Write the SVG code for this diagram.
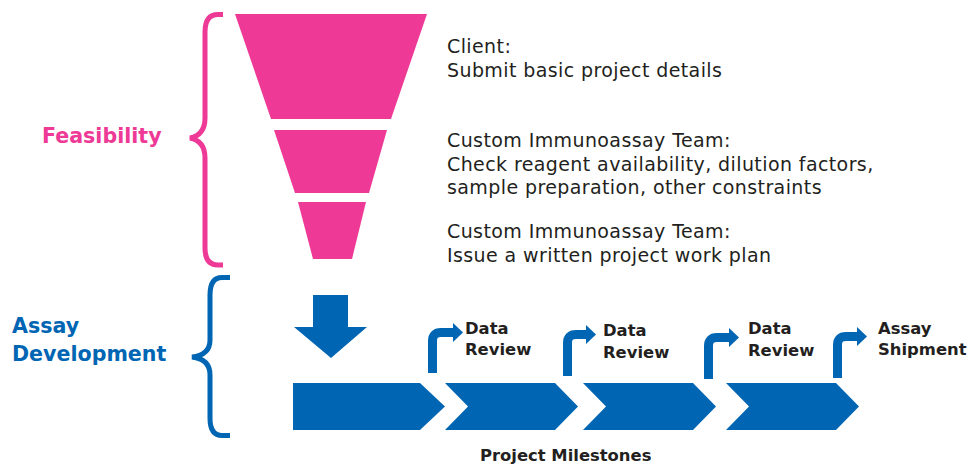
<svg xmlns="http://www.w3.org/2000/svg" width="971" height="465" viewBox="0 0 971 465">
<style>
.pink{fill:#EE3A96}
.blue{fill:#0066B3}
.brp{fill:none;stroke:#EE3A96;stroke-width:5}
.brb{fill:none;stroke:#0066B3;stroke-width:5}
.sh{fill:none;stroke:#0066B3;stroke-width:9}
.body{font-family:"DejaVu Sans","Liberation Sans",sans-serif;font-size:19px;letter-spacing:0.4px;fill:#231F20}
.lbl{font-family:"DejaVu Sans","Liberation Sans",sans-serif;font-size:16.4px;font-weight:bold;fill:#231F20}
.head{font-family:"DejaVu Sans","Liberation Sans",sans-serif;font-size:20.6px;font-weight:bold}
</style>
<rect width="971" height="465" fill="#fff"/>
<g id="feasibility">
<path class="brp" d="M223,14.5 H218 Q205,14.5 205,32 V118 Q205,135 190,138 Q205,141 205,158 V248 Q205,265 218,265 H223"/>
<text class="head" x="42" y="143" fill="#EE3A96">Feasibility</text>
</g>
<g id="funnel">
<polygon class="pink" points="235,14 427,14 391,119 271,119"/>
<polygon class="pink" points="274,130 387,130 369,193 295,193"/>
<polygon class="pink" points="298,202 366,202 352,259 313,259"/>
</g>
<g id="steps">
<text class="body" x="447" y="53">Client:</text>
<text class="body" x="447" y="77">Submit basic project details</text>
<text class="body" x="447" y="147">Custom Immunoassay Team:</text>
<text class="body" x="447" y="171">Check reagent availability, dilution factors,</text>
<text class="body" x="447" y="194">sample preparation, other constraints</text>
<text class="body" x="447" y="238">Custom Immunoassay Team:</text>
<text class="body" x="447" y="262">Issue a written project work plan</text>
</g>
<g id="assay-development">
<path class="brb" d="M230,277.5 H222 Q210,277.5 210,295 V340 Q210,355 192,357 Q210,359 210,375 V418 Q210,435.5 222,435.5 H230"/>
<text class="head" x="12" y="333" fill="#0066B3">Assay</text>
<text class="head" x="12" y="361" fill="#0066B3">Development</text>
</g>
<g id="down-arrow">
<polygon class="blue" points="313,295 348,295 348,327 367,327 331,358 294,327 313,327"/>
</g>
<g id="milestones">
<polygon class="blue" points="293,383 420,383 445,406.5 420,430 293,430"/>
<polygon class="blue" points="445,383 555,383 578,406.5 555,430 445,430 468,406.5"/>
<polygon class="blue" points="583,383 693,383 716,406.5 693,430 583,430 606,406.5"/>
<polygon class="blue" points="726,383 836,383 859,406.5 836,430 726,430 749,406.5"/>
<text class="lbl" x="480" y="461">Project Milestones</text>
</g>
<g id="connectors">
<path class="sh" d="M432.5,373 V341 Q432.5,332.5 441,332.5 H454"/>
<polygon class="blue" points="453,323 463,332.5 453,342"/>
<path class="sh" d="M567.5,376 V343 Q567.5,334.5 576,334.5 H587"/>
<polygon class="blue" points="586,325 596,334.5 586,344"/>
<path class="sh" d="M708.5,379 V346 Q708.5,337.5 717,337.5 H730"/>
<polygon class="blue" points="729,328 739,337.5 729,347"/>
<path class="sh" d="M837.5,378 V345 Q837.5,336.5 846,336.5 H858"/>
<polygon class="blue" points="857,327 867,336.5 857,346"/>
</g>
<g id="milestone-labels">
<text class="lbl" x="465" y="334">Data</text>
<text class="lbl" x="465" y="355">Review</text>
<text class="lbl" x="603" y="336">Data</text>
<text class="lbl" x="603" y="358">Review</text>
<text class="lbl" x="748" y="334">Data</text>
<text class="lbl" x="748" y="356">Review</text>
<text class="lbl" x="878" y="334">Assay</text>
<text class="lbl" x="878" y="355">Shipment</text>
</g>
</svg>
